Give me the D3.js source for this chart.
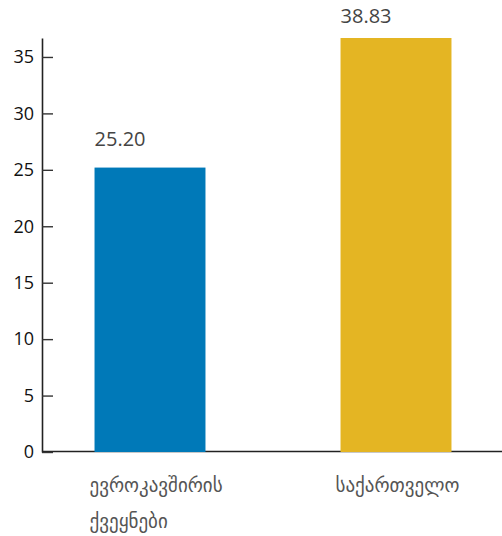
<!DOCTYPE html>
<html><head><meta charset="utf-8">
<script src="https://cdn.jsdelivr.net/npm/d3@7"></script>
<style>body{margin:0;background:#fff;} svg{display:block;}</style>
</head><body>
<svg id="c" width="502" height="536"></svg>
<script>
const categories = [["ევროკავშირის","ქვეყნები"],["საქართველო"]];
const values = [25.20, 38.83];
const colors = ["#0079b8", "#e4b523"];
const yTicks = [0, 5, 10, 15, 20, 25, 30, 35];

const svg = d3.select("#c");
const yMax = 36.68;
const y = d3.scaleLinear().domain([0, yMax]).range([452, 38]);
const x = d3.scaleBand().domain(d3.range(values.length)).range([27, 519]).paddingInner(0.549).paddingOuter(0.2745);

svg.append("defs").append("clipPath").attr("id","plot")
  .append("rect").attr("x",42).attr("y",38).attr("width",460).attr("height",414);

// x axis line
svg.append("line").attr("x1",42).attr("x2",502).attr("y1",451.5).attr("y2",451.5)
  .attr("stroke","#222").attr("stroke-width",1.6);

// bars
svg.append("g").attr("clip-path","url(#plot)").selectAll("rect").data(values).join("rect")
  .attr("x",(d,i)=>x(i)).attr("width",x.bandwidth())
  .attr("y",d=>y(d)).attr("height",d=>y(0)-y(d)+0.5)
  .attr("fill",(d,i)=>colors[i]);

// y axis
const yAxis = d3.axisLeft(y).tickValues(yTicks).tickSize(-11).tickPadding(8).tickSizeOuter(0);
const gy = svg.append("g").attr("transform","translate(42,0)").call(yAxis);
gy.select(".domain").attr("stroke","#222").attr("stroke-width",1.6);
gy.selectAll(".tick line").attr("stroke","#333").attr("stroke-width",1.4);
gy.selectAll(".tick text").attr("font-family","'Open Sans', sans-serif").attr("font-size",18).attr("fill","#111");

// value labels
svg.selectAll("text.val").data(values).join("text").attr("class","val")
  .attr("x",(d,i)=>x(i)).attr("y",d=>Math.max(y(d) - 21.5, 23))
  .attr("font-family","'Open Sans', sans-serif").attr("font-size",20).attr("fill","#444")
  .text(d=>d.toFixed(2));

// category labels
svg.selectAll("text.cat").data(categories).join("text").attr("class","cat")
  .attr("x",(d,i)=>x(i)-5).attr("y",492)
  .attr("font-family","'DejaVu Sans', sans-serif").attr("font-size",19).attr("fill","#555")
  .each(function(d){
    const t = d3.select(this);
    d.forEach((line,k)=>t.append("tspan").attr("x",t.attr("x")).attr("dy",k===0?0:36).text(line));
  });
</script>
</body></html>
